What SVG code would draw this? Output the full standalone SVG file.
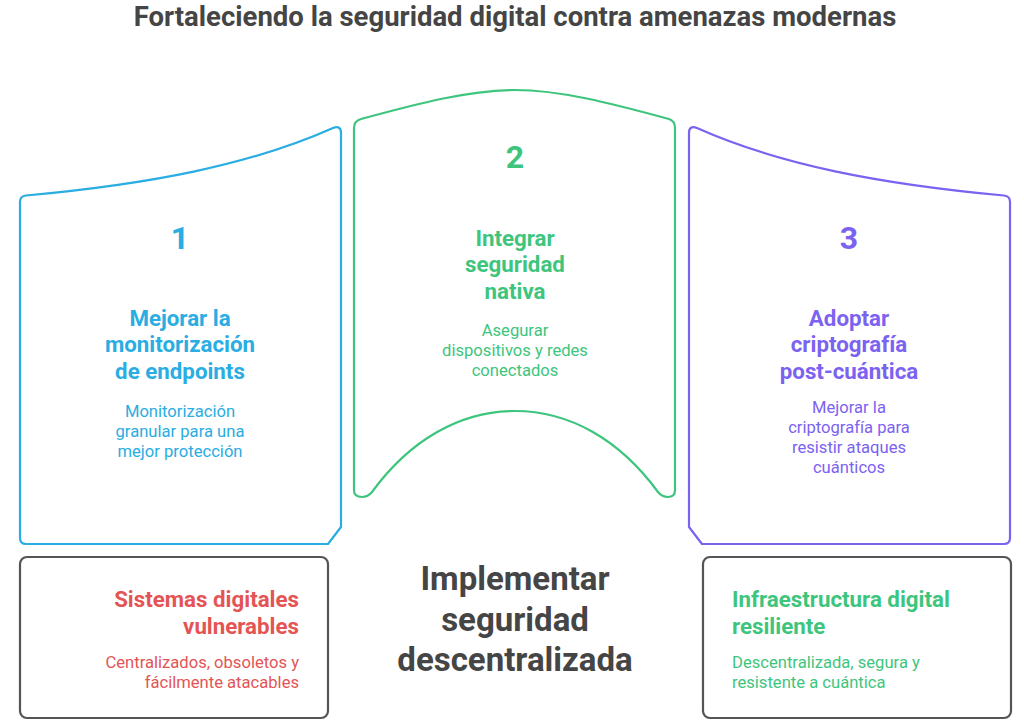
<svg xmlns="http://www.w3.org/2000/svg" width="1024" height="727" viewBox="0 0 1024 727">
<style>
text{font-family:Roboto,"Liberation Sans",sans-serif;text-anchor:middle}
.t{font-size:27.5px;font-weight:bold;fill:#454545}
.num{font-size:32px;font-weight:bold}
.h{font-size:22.3px;font-weight:bold}
.d{font-size:16.6px}
.c{font-size:33px;font-weight:bold;fill:#454545}
.blue{fill:#29ade2}.green{fill:#3ec57d}.purple{fill:#7c62f0}.red{fill:#e45454}
.panel{fill:#fff;stroke-width:2.2;stroke-linejoin:round}
.box{fill:#fff;stroke:#555;stroke-width:2.2}
</style>
<rect width="1024" height="727" fill="#fff"/>
<text class="t" x="515" y="26">Fortaleciendo la seguridad digital contra amenazas modernas</text>
<g id="node-1">
<path class="panel" stroke="#29ade2" d="M 20 202 Q 20 196 26 195.5 C 150 184 250 165 333 128 Q 341 125 341 133 L 341 527 L 328 544 L 26 544 Q 20 544 20 538 Z"/>
<text class="num blue" x="180" y="249">1</text>
<text class="h blue" x="180" y="326">Mejorar la</text>
<text class="h blue" x="180" y="352">monitorización</text>
<text class="h blue" x="180" y="379">de endpoints</text>
<text class="d blue" x="180" y="417">Monitorización</text>
<text class="d blue" x="180" y="437">granular para una</text>
<text class="d blue" x="180" y="457">mejor protección</text>
</g>
<g id="node-2">
<path class="panel" stroke="#3ec57d" d="M 354 128 Q 354 121 361 119 C 420 103 470 90 515 90 C 560 90 610 103 669 119 Q 675 121 675 128 L 675 490 Q 675 497 668 497 Q 662 497 658 492 C 620 440 570 411 515 411 C 460 411 410 440 372 492 Q 368 497 362 497 Q 354 497 354 490 Z"/>
<text class="num green" x="515" y="168">2</text>
<text class="h green" x="515" y="246">Integrar</text>
<text class="h green" x="515" y="272">seguridad</text>
<text class="h green" x="515" y="299">nativa</text>
<text class="d green" x="515" y="336">Asegurar</text>
<text class="d green" x="515" y="356">dispositivos y redes</text>
<text class="d green" x="515" y="376">conectados</text>
</g>
<g id="node-3">
<path class="panel" stroke="#7c62f0" d="M 1010 202 Q 1010 196 1004 195.5 C 880 184 780 165 697 128 Q 689 125 689 133 L 689 527 L 702 544 L 1004 544 Q 1010 544 1010 538 Z"/>
<text class="num purple" x="849" y="249">3</text>
<text class="h purple" x="849" y="326">Adoptar</text>
<text class="h purple" x="849" y="352">criptografía</text>
<text class="h purple" x="849" y="379">post-cuántica</text>
<text class="d purple" x="849" y="413">Mejorar la</text>
<text class="d purple" x="849" y="433">criptografía para</text>
<text class="d purple" x="849" y="453">resistir ataques</text>
<text class="d purple" x="849" y="473">cuánticos</text>
</g>
<g id="center">
<text class="c" x="515" y="590">Implementar</text>
<text class="c" x="515" y="631">seguridad</text>
<text class="c" x="515" y="671">descentralizada</text>
</g>
<g id="node-left">
<rect class="box" x="20" y="557" width="308" height="161" rx="7"/>
<text class="h red" x="299" y="607" style="text-anchor:end">Sistemas digitales</text>
<text class="h red" x="299" y="634" style="text-anchor:end">vulnerables</text>
<text class="d red" x="299" y="668" style="text-anchor:end">Centralizados, obsoletos y</text>
<text class="d red" x="299" y="688" style="text-anchor:end">fácilmente atacables</text>
</g>
<g id="node-right">
<rect class="box" x="703" y="557" width="308" height="161" rx="7"/>
<text class="h green" x="732" y="607" style="text-anchor:start">Infraestructura digital</text>
<text class="h green" x="732" y="634" style="text-anchor:start">resiliente</text>
<text class="d green" x="732" y="668" style="text-anchor:start">Descentralizada, segura y</text>
<text class="d green" x="732" y="688" style="text-anchor:start">resistente a cuántica</text>
</g>
<g id="connectors"></g>
</svg>
